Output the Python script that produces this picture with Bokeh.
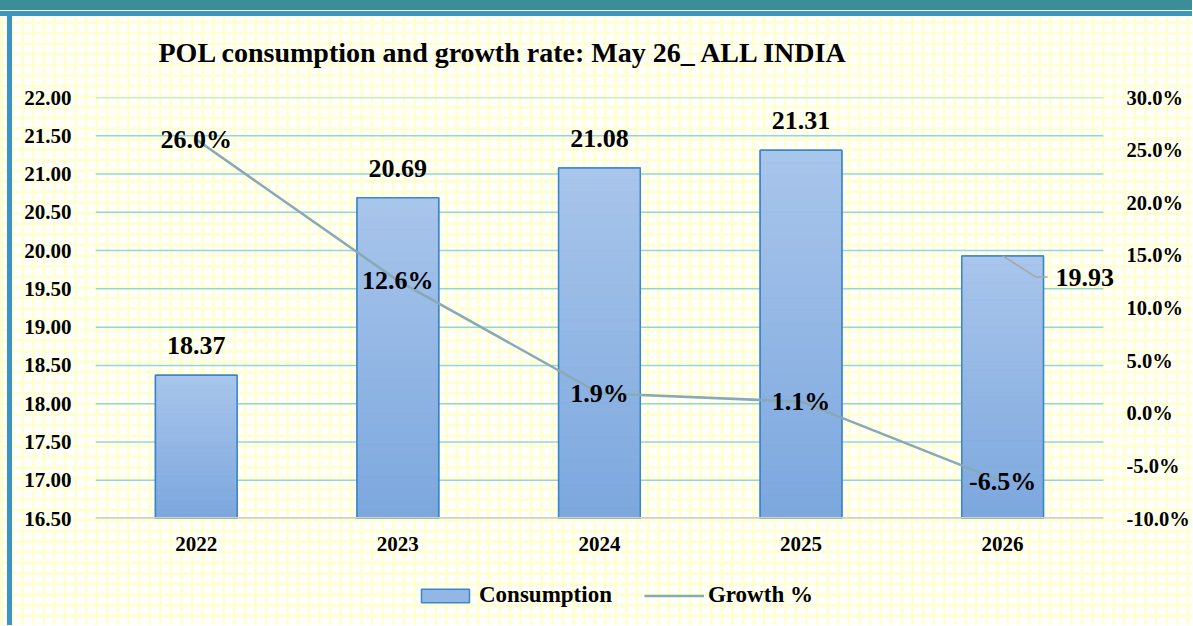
from bokeh.plotting import figure
from bokeh.layouts import column
from bokeh.models import (Range1d, LinearAxis, ColumnDataSource, Legend, LegendItem,
                          FixedTicker, PrintfTickFormatter, NumeralTickFormatter)
from bokeh.core.properties import value
from bokeh.embed import file_html
from bokeh.resources import INLINE

# ---- data ----
years = ["2022", "2023", "2024", "2025", "2026"]
consumption = [18.37, 20.69, 21.08, 21.31, 19.93]
growth = [26.0, 12.6, 1.9, 1.1, -6.5]
left_ticks = [16.5, 17.0, 17.5, 18.0, 18.5, 19.0, 19.5, 20.0, 20.5, 21.0, 21.5, 22.0]
right_ticks = [-10, -5, 0, 5, 10, 15, 20, 25, 30]
title_text = "POL consumption and growth rate: May 26_ ALL INDIA"
series_names = ["Consumption", "Growth %"]

FONT = "Liberation Serif"
BAR_FILL = "#92B6E5"
BAR_LINE = "#3B87C6"
LINE_COLOR = "#88A9B6"
n = len(years)
xs = list(range(n))
Y0, Y1 = left_ticks[0], left_ticks[-1]
X0, X1 = -0.5, n - 0.5
W = 1192

p = figure(width=W, height=565, x_range=Range1d(X0, X1 + 0.06),
           y_range=Range1d(Y0, Y1), output_backend="svg", toolbar_location=None,
           min_border_left=95, min_border_right=77, min_border_top=97, min_border_bottom=47)
p.extra_y_ranges = {"g": Range1d(right_ticks[0], right_ticks[-1])}

p.background_fill_alpha = 0
p.border_fill_alpha = 0
p.outline_line_color = None

# horizontal grid lines (drawn over the category span only)
p.xgrid.visible = False
p.ygrid.visible = False
p.segment(x0=[X0] * len(left_ticks), x1=[X1] * len(left_ticks), y0=left_ticks, y1=left_ticks,
          line_color="#96D4D8", line_width=1.5)

# left axis
la = p.yaxis[0]
la.ticker = FixedTicker(ticks=left_ticks)
la.formatter = NumeralTickFormatter(format="0.00")
la.axis_line_color = None
la.major_tick_line_color = None
la.minor_tick_line_color = None
la.major_label_standoff = 18
la.major_label_text_font = FONT
la.major_label_text_font_style = "bold"
la.major_label_text_font_size = "21px"
la.major_label_text_color = "black"

# right axis
ra = LinearAxis(y_range_name="g", ticker=FixedTicker(ticks=right_ticks),
                formatter=PrintfTickFormatter(format="%.1f%%"))
ra.axis_line_color = None
ra.major_tick_line_color = None
ra.minor_tick_line_color = None
ra.major_label_standoff = 5
ra.major_label_text_font = FONT
ra.major_label_text_font_style = "bold"
ra.major_label_text_font_size = "20.5px"
ra.major_label_text_color = "black"
p.add_layout(ra, "right")

# bottom axis
ba = p.xaxis[0]
ba.ticker = FixedTicker(ticks=xs)
ba.major_label_overrides = {i: y for i, y in zip(xs, years)}
ba.axis_line_color = None
ba.major_tick_line_color = None
ba.minor_tick_line_color = None
ba.major_label_standoff = 12
ba.major_label_text_font = FONT
ba.major_label_text_font_style = "bold"
ba.major_label_text_font_size = "21px"
ba.major_label_text_color = "black"

# bars: base, gradient slices, outline
BW = 0.405
src = ColumnDataSource(dict(x=xs, c=consumption, g=growth,
                            glab=["%.1f%%" % v for v in growth]))
p.vbar(x="x", top="c", bottom=Y0, width=BW, source=src,
       fill_color=BAR_FILL, line_color=BAR_LINE, line_width=1.5)
NS = 30
top_rgb = (0xA9, 0xC6, 0xEB)
bot_rgb = (0x7C, 0xA7, 0xDE)
sx, sb, st, sc = [], [], [], []
for xi, c in zip(xs, consumption):
    h = (c - Y0) / NS
    for k in range(NS):
        f = (k + 0.5) / NS
        rgb = tuple(int(round(b + (t - b) * f)) for b, t in zip(bot_rgb, top_rgb))
        sx.append(xi); sb.append(Y0 + k * h); st.append(Y0 + (k + 1) * h)
        sc.append("#%02X%02X%02X" % rgb)
p.vbar(x=sx, bottom=sb, top=st, width=BW, fill_color=sc, line_color=sc, line_width=0.5)
p.vbar(x="x", top="c", bottom=Y0, width=BW, source=src,
       fill_color=None, line_color=BAR_LINE, line_width=1.5)

# bottom axis line
p.segment(x0=[X0], x1=[X1], y0=[Y0], y1=[Y0], line_color="#D0D0D0", line_width=3)

# growth line
p.line(x="x", y="g", source=src, y_range_name="g", line_color=LINE_COLOR, line_width=2.5)

# bar value labels (last one moved to the right with a leader line)
lab_src = ColumnDataSource(dict(
    x=xs, y=consumption, t=["%.2f" % v for v in consumption],
    xo=[0] * (n - 1) + [53], yo=[-21] * (n - 1) + [22],
    al=["center"] * (n - 1) + ["left"],
    bl=["bottom"] * (n - 1) + ["middle"],
))
p.text(x="x", y="y", text="t", source=lab_src, x_offset="xo", y_offset="yo",
       text_align="al", text_baseline="bl", text_font=value(FONT),
       text_font_style="bold", text_font_size="26px", text_color="black")
last = n - 1
p.line(x=[xs[last], xs[last] + 0.164, xs[last] + 0.223],
       y=[consumption[last], consumption[last] - 0.274, consumption[last] - 0.274],
       line_color="#A6A6A6", line_width=1.5)

# growth labels
p.text(x="x", y="g", text="glab", source=src, y_range_name="g",
       text_align="center", text_baseline="middle", text_font=value(FONT),
       text_font_style="bold", text_font_size="26px", text_color="black")

# title
p.title.text = title_text
p.title.align = "left"
p.title.offset = 63
p.title.standoff = 60
p.title.text_font = FONT
p.title.text_font_style = "bold"
p.title.text_font_size = "28px"
p.title.text_color = "black"

# ---- legend strip (separate small figure so nothing is clipped) ----
lf = figure(width=W, height=60, x_range=Range1d(0, 1), y_range=Range1d(0, 1),
            output_backend="svg", toolbar_location=None, x_axis_type=None, y_axis_type=None,
            min_border_left=0, min_border_right=0, min_border_top=0, min_border_bottom=0)
lf.background_fill_alpha = 0
lf.border_fill_alpha = 0
lf.outline_line_color = None
lf.xgrid.visible = False
lf.ygrid.visible = False
# legend proxies placed outside the visible range
r_bar = lf.vbar(x=[-10], top=[-10], bottom=[-11], width=0.1,
                fill_color=BAR_FILL, line_color=BAR_LINE, line_width=1.5)
r_line = lf.line(x=[-10, -9], y=[-10, -10], line_color=LINE_COLOR, line_width=2.5)
lg = Legend(items=[LegendItem(label=series_names[0], renderers=[r_bar]),
                   LegendItem(label=series_names[1], renderers=[r_line])],
            location=(320, 17), orientation="horizontal")
lg.background_fill_alpha = 0
lg.border_line_color = None
lg.glyph_width = 60
lg.glyph_height = 17
lg.label_height = 25
lg.label_text_font = FONT
lg.label_text_font_style = "bold"
lg.label_text_font_size = "23px"
lg.label_text_color = "black"
lg.spacing = 32
lg.padding = 0
lg.margin = 0
lg.label_standoff = 4
lf.add_layout(lg)

layout = column(p, lf, spacing=0)
layout.styles = {
    "background-color": "white",
    "background-image": (
        "linear-gradient(to bottom, #3B8D98 0px, #3B8D98 10px, #FFF6C4 10px, #FFF6C4 11px, "
        "#3A96C0 11px, #3A96C0 16px, transparent 16px), "
        "linear-gradient(to right, transparent 0px, transparent 7px, #3A96C0 7px, #3A96C0 12px, transparent 12px), "
        "linear-gradient(to bottom, #FFFFD2 3px, transparent 3px), "
        "linear-gradient(to right, #FFFFD2 3px, transparent 3px)"
    ),
    "background-size": "100% 100%, 100% 100%, 10.6px 10.6px, 10.6px 10.6px",
    "background-repeat": "no-repeat, no-repeat, repeat, repeat",
}

open("out.html", "w").write(file_html(layout, INLINE))
